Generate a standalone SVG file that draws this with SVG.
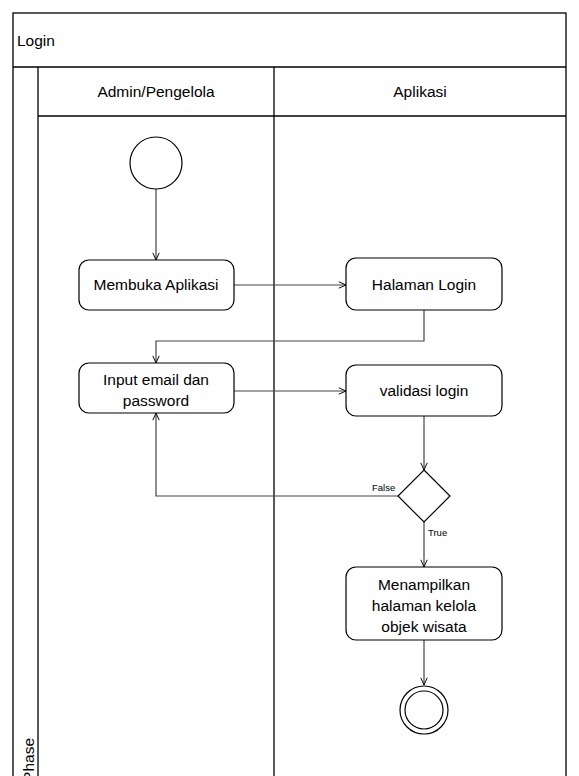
<svg xmlns="http://www.w3.org/2000/svg" width="579" height="776" viewBox="0 0 579 776">
  <style>
    .frame { fill: #ffffff; stroke: #000000; stroke-width: 1.3; }
    .act { fill: #ffffff; stroke: #000000; stroke-width: 1.2; }
    .lbl { font-family: "Liberation Sans", Arial, sans-serif; font-size: 15.5px; fill: #000000; text-anchor: middle; }
    .hdr { font-family: "Liberation Sans", Arial, sans-serif; font-size: 15.5px; fill: #000000; }
    .small { font-family: "Liberation Sans", Arial, sans-serif; font-size: 9.5px; fill: #000000; }
    .flow { fill: none; stroke: #444444; stroke-width: 1.2; }
  </style>
  <defs>
    <marker id="open" viewBox="0 0 10 10" refX="10" refY="5" markerWidth="8" markerHeight="8" markerUnits="userSpaceOnUse" orient="auto">
      <path d="M1,1 L10,5 L1,9" fill="none" stroke="#000000" stroke-width="1.2"/>
    </marker>
  </defs>

  <!-- pool frame with lanes -->
  <g id="pool">
    <rect class="frame" x="13" y="13" width="553" height="780"/>
    <line class="frame" x1="13" y1="67" x2="566" y2="67"/>
    <line class="frame" x1="38" y1="67" x2="38" y2="776"/>
    <line class="frame" x1="38" y1="116" x2="566" y2="116"/>
    <line class="frame" x1="274" y1="67" x2="274" y2="776"/>
    <text class="hdr" x="17" y="46">Login</text>
    <text class="hdr" x="156" y="97" text-anchor="middle">Admin/Pengelola</text>
    <text class="hdr" x="420" y="97" text-anchor="middle">Aplikasi</text>
    <text class="hdr" transform="translate(34,738) rotate(-90)" text-anchor="end">Phase</text>
  </g>

  <!-- connectors -->
  <g id="connectors">
    <line class="flow" x1="156" y1="189" x2="156" y2="260" marker-end="url(#open)"/>
    <line class="flow" x1="234" y1="285" x2="346" y2="285" marker-end="url(#open)"/>
    <polyline class="flow" points="424,310 424,341 156,341 156,363" marker-end="url(#open)"/>
    <line class="flow" x1="234" y1="391" x2="346" y2="391" marker-end="url(#open)"/>
    <line class="flow" x1="424" y1="416" x2="424" y2="470" marker-end="url(#open)"/>
    <polyline class="flow" points="398,496 156,496 156,413" marker-end="url(#open)"/>
    <text class="small" x="372" y="491">False</text>
    <line class="flow" x1="424" y1="522" x2="424" y2="567" marker-end="url(#open)"/>
    <text class="small" x="428" y="536">True</text>
    <line class="flow" x1="424" y1="640" x2="424" y2="685" marker-end="url(#open)"/>
  </g>

  <g id="start">
    <circle class="act" cx="156" cy="163" r="26"/>
  </g>

  <g id="membuka-aplikasi">
    <rect class="act" x="79" y="260" width="155" height="50" rx="10"/>
    <text class="lbl" x="156" y="290">Membuka Aplikasi</text>
  </g>

  <g id="halaman-login">
    <rect class="act" x="346" y="258" width="156" height="52" rx="10"/>
    <text class="lbl" x="424" y="290">Halaman Login</text>
  </g>

  <g id="input-email">
    <rect class="act" x="79" y="363" width="155" height="50" rx="10"/>
    <text class="lbl" x="156" y="385">Input email dan</text>
    <text class="lbl" x="156" y="406">password</text>
  </g>

  <g id="validasi-login">
    <rect class="act" x="346" y="365" width="156" height="51" rx="10"/>
    <text class="lbl" x="424" y="396">validasi login</text>
  </g>

  <g id="decision">
    <polygon class="act" points="424,470 450,496 424,522 398,496"/>
  </g>

  <g id="menampilkan">
    <rect class="act" x="346" y="567" width="156" height="73" rx="10"/>
    <text class="lbl" x="424" y="590">Menampilkan</text>
    <text class="lbl" x="424" y="611">halaman kelola</text>
    <text class="lbl" x="424" y="632">objek wisata</text>
  </g>

  <g id="end">
    <circle class="act" cx="424" cy="710" r="24"/>
    <circle class="act" cx="424" cy="710" r="19"/>
  </g>
</svg>
